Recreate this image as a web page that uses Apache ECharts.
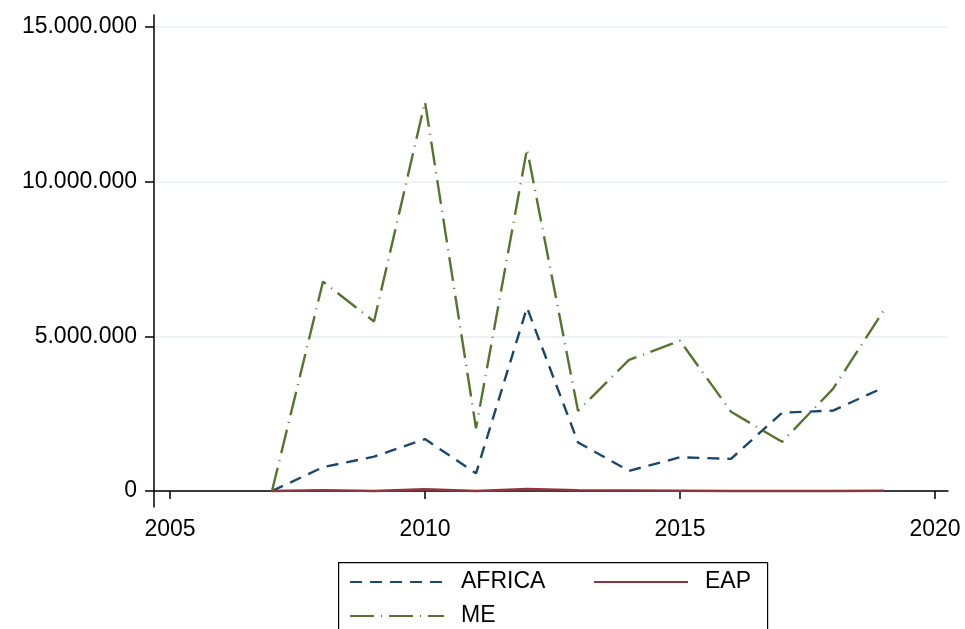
<!DOCTYPE html>
<html>
<head>
<meta charset="utf-8">
<script src="https://cdn.jsdelivr.net/npm/echarts@6/dist/echarts.min.js"></script>
<style>html,body{margin:0;padding:0;background:#fff}#c{width:965px;height:629px}</style>
</head>
<body>
<div id="c"></div>
<script>
const years = [2007, 2008, 2009, 2010, 2011, 2012, 2013, 2014, 2015, 2016, 2017, 2018, 2019];
const africa = [0, 770000, 1110000, 1680000, 570000, 5930000, 1570000, 650000, 1090000, 1040000, 2530000, 2600000, 3350000];
const eap = [0, 30000, 0, 55000, 0, 65000, 30000, 20000, 10000, 0, 0, 0, 10000];
const me = [0, 6770000, 5480000, 12580000, 2030000, 11060000, 2590000, 4240000, 4860000, 2560000, 1590000, 3300000, 5850000];
const xTicks = [2005, 2010, 2015, 2020];
const yTicks = [0, 5000000, 10000000, 15000000];
const seriesNames = ['AFRICA', 'EAP', 'ME'];

const font = 'Liberation Sans, Arial, sans-serif';
const pairs = arr => years.map((y, i) => [y, arr[i]]);
const fmt = v => String(Math.round(v)).replace(/\B(?=(\d{3})+(?!\d))/g, '.');

const chart = echarts.init(document.getElementById('c'), null, {renderer: 'canvas'});
chart.setOption({
  animation: false,
  backgroundColor: '#ffffff',
  grid: {left: 154, top: 15, width: 794, height: 492, containLabel: false},
  xAxis: {
    type: 'value', min: 2004.686, max: 2020.255,
    axisLine: {show: true, lineStyle: {color: '#000', width: 1.5}},
    axisTick: {show: true, length: 8, lineStyle: {color: '#000', width: 1.5}, customValues: xTicks},
    axisLabel: {customValues: xTicks, color: '#000', fontSize: 23, fontFamily: font, margin: 11, formatter: v => String(v)},
    splitLine: {show: false}
  },
  yAxis: {
    type: 'value', min: -517000, max: 15388000,
    axisLine: {show: true, lineStyle: {color: '#000', width: 1.5}},
    axisTick: {show: true, length: 9, lineStyle: {color: '#000', width: 1.5}, customValues: yTicks},
    axisLabel: {customValues: yTicks, color: '#000', fontSize: 23, fontFamily: font, margin: 17, formatter: fmt},
    splitLine: {show: true, lineStyle: {color: '#e8f0f1', width: 1.5}}
  },
  legend: {
    data: seriesNames,
    left: 349, top: 569, width: 500,
    orient: 'horizontal',
    itemWidth: 94, itemHeight: 14, itemGap: 8,
    padding: 0,
    itemStyle: {opacity: 0},
    textStyle: {color: '#000', fontSize: 23, fontFamily: font, lineHeight: 26, width: 124, padding: [0, 0, 0, 12]}
  },
  graphic: [{
    type: 'rect', left: 338, top: 562, z: -1,
    shape: {width: 429, height: 100},
    style: {fill: '#fff', stroke: '#000', lineWidth: 1.2}
  }],
  series: [
    {name: 'AFRICA', type: 'line', data: pairs(africa), symbol: 'none',
     lineStyle: {color: '#1a476f', width: 2.4, type: [12, 8]}, itemStyle: {color: '#1a476f'}},
    {name: 'EAP', type: 'line', data: pairs(eap), symbol: 'none',
     lineStyle: {color: '#90353b', width: 2.4, type: 'solid'}, itemStyle: {color: '#90353b'}},
    {name: 'ME', type: 'line', data: pairs(me), symbol: 'none',
     lineStyle: {color: '#55752f', width: 2.4, type: [24, 7, 1, 7]}, itemStyle: {color: '#55752f'}}
  ]
});
</script>
</body>
</html>
